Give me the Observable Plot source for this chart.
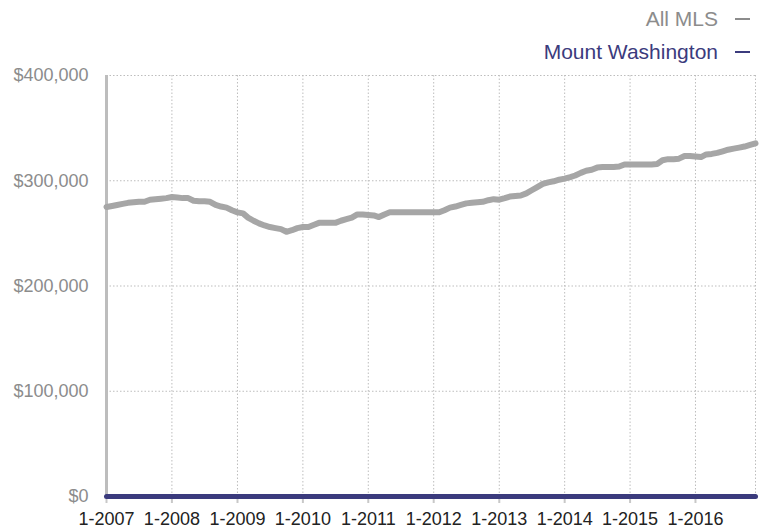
<!DOCTYPE html>
<html>
<head>
<meta charset="utf-8">
<script src="https://cdn.jsdelivr.net/npm/d3@7"></script>
<script src="https://cdn.jsdelivr.net/npm/@observablehq/plot@0.6"></script>
<style>
  html, body { margin: 0; padding: 0; background: #fff; }
  body { font-family: "Liberation Sans", Arial, Helvetica, sans-serif; }
  #wrap { width: 765px; height: 529px; position: relative; overflow: hidden; }
  #legend { height: 64px; position: relative; }
  .item { position: absolute; right: 15px; font-size: 21px; line-height: 21px; white-space: nowrap; display: flex; align-items: center; }
  .dash { display: inline-block; width: 15px; height: 2px; margin-left: 17px; }
  #chart svg { display: block; }
</style>
</head>
<body>
<div id="wrap">
  <div id="legend"></div>
  <div id="chart"></div>
</div>
<script>
// ---- data ----
const seriesNames = ["All MLS", "Mount Washington"];
const seriesColors = ["#a6a6a6", "#3b3b7d"];
const startMonth = "2007-01-01";
const endMonth = "2016-12-01";
const xTickDates = ["2007-01-01","2008-01-01","2009-01-01","2010-01-01","2011-01-01","2012-01-01","2013-01-01","2014-01-01","2015-01-01","2016-01-01"];
const xTickLabels = ["1-2007","1-2008","1-2009","1-2010","1-2011","1-2012","1-2013","1-2014","1-2015","1-2016"];
const yTicks = [0, 100000, 200000, 300000, 400000];

// monthly median price, thousands of dollars (Jan 2007 .. Dec 2016)
const allMLS = [
  275, 276, 277, 278, 279, 279.5, 280, 280, 282, 282.5, 283, 283.5,
  284.5, 284, 283.5, 283.5, 281, 280.5, 280.5, 280, 277, 275.5, 274.5, 272,
  270, 269, 265, 262, 259.5, 257.5, 256, 255, 254, 251.5, 253, 255,
  256, 256, 258, 260, 260, 260, 260, 262, 263.5, 265, 268, 268,
  267.5, 267, 265.5, 268, 270, 270, 270, 270, 270, 270, 270, 270,
  270, 270, 272, 274.5, 275.5, 277, 278.5, 279, 279.5, 280, 281.5, 282.5,
  282, 283.5, 285, 285.5, 286, 288, 291, 294, 297, 298.5, 299.5, 301,
  302, 303.5, 305, 307.5, 309.5, 310.5, 312.5, 313, 313, 313, 313.5, 315.5,
  315.5, 315.5, 315.5, 315.5, 315.5, 316, 319.5, 320.5, 320.5, 321, 323.5, 323.5,
  323, 322.5, 325, 325.5, 326.5, 328, 329.5, 330.5, 331.5, 332.5, 334, 335.5
];
const mountWashington = [
  0,0,0,0,0,0,0,0,0,0,0,0,
  0,0,0,0,0,0,0,0,0,0,0,0,
  0,0,0,0,0,0,0,0,0,0,0,0,
  0,0,0,0,0,0,0,0,0,0,0,0,
  0,0,0,0,0,0,0,0,0,0,0,0,
  0,0,0,0,0,0,0,0,0,0,0,0,
  0,0,0,0,0,0,0,0,0,0,0,0,
  0,0,0,0,0,0,0,0,0,0,0,0,
  0,0,0,0,0,0,0,0,0,0,0,0,
  0,0,0,0,0,0,0,0,0,0,0,0
];

// ---- build ----
const start = new Date(startMonth);
const end = new Date(endMonth);
const months = d3.utcMonth.range(start, d3.utcMonth.offset(end, 1));
const rows = [];
months.forEach((m, i) => {
  rows.push({date: m, value: allMLS[i] * 1000, series: seriesNames[0]});
});
const mwRows = months.map((m, i) => ({date: m, value: mountWashington[i] * 1000, series: seriesNames[1]}));
const tickDates = xTickDates.map(d => new Date(d));

// legend
const legend = document.getElementById("legend");
const tops = [8, 41];
seriesNames.forEach((name, i) => {
  const div = document.createElement("div");
  div.className = "item";
  div.style.top = tops[i] + "px";
  div.style.color = i === 0 ? "#8c8c8c" : seriesColors[1];
  const t = document.createElement("span");
  t.textContent = name;
  const dash = document.createElement("span");
  dash.className = "dash";
  dash.style.background = i === 0 ? "#8c8c8c" : seriesColors[1];
  div.appendChild(t);
  div.appendChild(dash);
  legend.appendChild(div);
});

const grid = "#bdbdbd";
const chart = Plot.plot({
  width: 765,
  height: 465,
  marginLeft: 106,
  marginRight: 10,
  marginTop: 11,
  marginBottom: 33,
  style: {fontFamily: "'Liberation Sans', Arial, Helvetica, sans-serif", fontSize: "18px", background: "#fff"},
  x: {type: "utc", domain: [start, end], label: null},
  y: {domain: [0, 400000], label: null},
  marks: [
    Plot.ruleY(yTicks.filter(d => d > 0), {stroke: grid, strokeWidth: 1, strokeDasharray: "1.5,2"}),
    Plot.ruleX(tickDates.slice(1).concat([end]), {stroke: grid, strokeWidth: 1, strokeDasharray: "1.5,2"}),
    Plot.axisY({
      ticks: yTicks,
      tickFormat: d => "$" + d3.format(",")(d),
      tickSize: 0,
      tickPadding: 18,
      fontSize: 18,
      fill: "#8c8c8c",
      label: null
    }),
    Plot.axisX({
      ticks: tickDates,
      tickFormat: (d, i) => xTickLabels[i],
      tickSize: 7,
      tickPadding: 9,
      fontSize: 18,
      stroke: "#c8c8c8",
      strokeWidth: 2,
      fill: "#222",
      label: null
    }),
    Plot.ruleX([start], {stroke: "#bdbdbd", strokeWidth: 3}),
    Plot.line(rows, {x: "date", y: "value", stroke: seriesColors[0], strokeWidth: 6, strokeLinejoin: "round"}),
    Plot.line(mwRows, {x: "date", y: "value", stroke: seriesColors[1], strokeWidth: 5})
  ]
});
document.getElementById("chart").appendChild(chart);
</script>
</body>
</html>
